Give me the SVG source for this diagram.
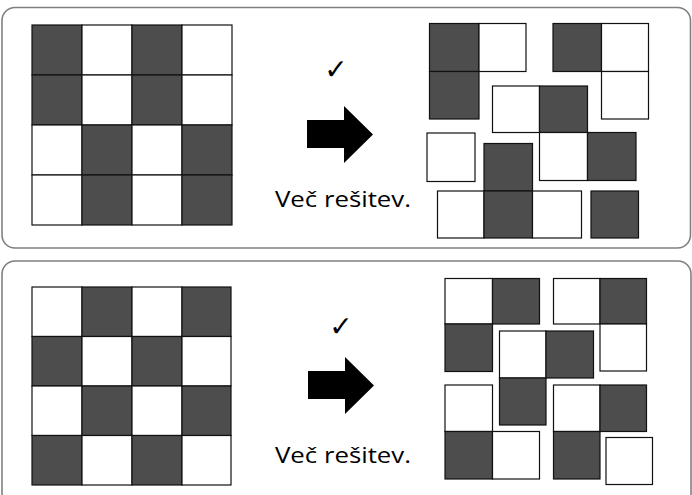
<svg xmlns="http://www.w3.org/2000/svg" width="692" height="495" viewBox="0 0 692 495">
<defs>
<style>
.panel{fill:#ffffff;stroke:#808080;stroke-width:1.6}
.d{fill:#4d4d4d;stroke:#111;stroke-width:1.2}
.w{fill:#ffffff;stroke:#111;stroke-width:1.2}
.arrow{fill:#000}
.lbl{font-family:"Open Sans","Liberation Sans",sans-serif;font-size:22px;fill:#000}
.chk{font-family:"DejaVu Sans",sans-serif;font-size:28px;fill:#000}
</style>
</defs>
<rect width="692" height="495" fill="#fff"/>
<g id="panel1">
<rect class="panel" x="2" y="7.5" width="688.5" height="240.5" rx="13"/>
</g>
<g id="panel2">
<path class="panel" d="M2 510 V274 A13 13 0 0 1 15 261 H678 A13 13 0 0 1 691 274 V510"/>
</g>
<g id="grid1">
<rect class="d" x="32" y="25" width="50" height="50"/><rect class="w" x="82" y="25" width="50" height="50"/><rect class="d" x="132" y="25" width="50" height="50"/><rect class="w" x="182" y="25" width="50" height="50"/>
<rect class="d" x="32" y="75" width="50" height="50"/><rect class="w" x="82" y="75" width="50" height="50"/><rect class="d" x="132" y="75" width="50" height="50"/><rect class="w" x="182" y="75" width="50" height="50"/>
<rect class="w" x="32" y="125" width="50" height="50"/><rect class="d" x="82" y="125" width="50" height="50"/><rect class="w" x="132" y="125" width="50" height="50"/><rect class="d" x="182" y="125" width="50" height="50"/>
<rect class="w" x="32" y="175" width="50" height="50"/><rect class="d" x="82" y="175" width="50" height="50"/><rect class="w" x="132" y="175" width="50" height="50"/><rect class="d" x="182" y="175" width="50" height="50"/>
</g>
<g id="grid2">
<rect class="w" x="32" y="287" width="50" height="49.5"/><rect class="d" x="82" y="287" width="50" height="49.5"/><rect class="w" x="132" y="287" width="50" height="49.5"/><rect class="d" x="182" y="287" width="49" height="49.5"/>
<rect class="d" x="32" y="336.5" width="50" height="49.5"/><rect class="w" x="82" y="336.5" width="50" height="49.5"/><rect class="d" x="132" y="336.5" width="50" height="49.5"/><rect class="w" x="182" y="336.5" width="49" height="49.5"/>
<rect class="w" x="32" y="386" width="50" height="49.5"/><rect class="d" x="82" y="386" width="50" height="49.5"/><rect class="w" x="132" y="386" width="50" height="49.5"/><rect class="d" x="182" y="386" width="49" height="49.5"/>
<rect class="d" x="32" y="435.5" width="50" height="49.5"/><rect class="w" x="82" y="435.5" width="50" height="49.5"/><rect class="d" x="132" y="435.5" width="50" height="49.5"/><rect class="w" x="182" y="435.5" width="49" height="49.5"/>
</g>
<g id="label1">
<text class="chk" x="336" y="79" text-anchor="middle">✓</text>
<text class="lbl" x="275" y="207" textLength="136" lengthAdjust="spacingAndGlyphs">Več rešitev.</text>
</g>
<g id="label2">
<text class="chk" x="341" y="336" text-anchor="middle">✓</text>
<text class="lbl" x="275" y="463" textLength="136" lengthAdjust="spacingAndGlyphs">Več rešitev.</text>
</g>
<g id="connectors">
<polygon class="arrow" points="307,120 344,120 344,106 373,134.5 344,163 344,148 307,148"/>
<polygon class="arrow" points="308,371 345,371 345,357 374,385.5 345,414 345,399 308,399"/>
</g>
<g id="pieces1">
<g id="p1a"><rect class="d" x="429.5" y="23.5" width="49.5" height="48"/><rect class="w" x="479" y="23.5" width="47" height="48"/><rect class="d" x="429.5" y="71.5" width="49.5" height="47.5"/></g>
<g id="p1b"><rect class="d" x="553" y="23.5" width="48.5" height="48"/><rect class="w" x="601.5" y="23.5" width="47" height="48"/><rect class="w" x="601.5" y="71.5" width="47" height="47.5"/></g>
<g id="p1c"><rect class="w" x="492.5" y="86" width="47" height="46.5"/><rect class="d" x="539.5" y="86" width="48" height="46.5"/><rect class="w" x="539.5" y="132.5" width="48" height="48"/><rect class="d" x="587.5" y="132.5" width="48.5" height="48"/></g>
<g id="p1d"><rect class="w" x="427" y="133" width="48" height="48.5"/></g>
<g id="p1e"><rect class="d" x="484" y="143.5" width="48.5" height="47.5"/><rect class="w" x="437.5" y="191" width="46.5" height="47"/><rect class="d" x="484" y="191" width="48.5" height="47"/><rect class="w" x="532.5" y="191" width="49" height="47"/></g>
<g id="p1f"><rect class="d" x="591" y="191" width="47.5" height="47"/></g>
</g>
<g id="pieces2">
<g id="p2a"><rect class="w" x="445" y="278.5" width="47.5" height="45.5"/><rect class="d" x="492.5" y="278.5" width="47" height="45.5"/><rect class="d" x="445" y="324" width="47.5" height="47.5"/></g>
<g id="p2b"><rect class="w" x="553.5" y="278.5" width="46.5" height="45.5"/><rect class="d" x="600" y="278.5" width="46.5" height="45.5"/><rect class="w" x="600" y="324" width="46.5" height="47"/></g>
<g id="p2c"><rect class="w" x="499.5" y="331" width="46.5" height="47"/><rect class="d" x="546" y="331" width="47.5" height="47"/><rect class="d" x="499.5" y="378" width="46.5" height="47"/></g>
<g id="p2d"><rect class="w" x="445" y="385" width="47.5" height="46.5"/><rect class="d" x="445" y="431.5" width="47.5" height="47.5"/><rect class="w" x="492.5" y="431.5" width="47" height="47.5"/></g>
<g id="p2e"><rect class="w" x="553.5" y="385" width="46.5" height="46.5"/><rect class="d" x="600" y="385" width="46.5" height="46.5"/><rect class="d" x="553.5" y="431.5" width="46.5" height="47.5"/></g>
<g id="p2f"><rect class="w" x="606" y="437.5" width="46.5" height="47"/></g>
</g>
</svg>
